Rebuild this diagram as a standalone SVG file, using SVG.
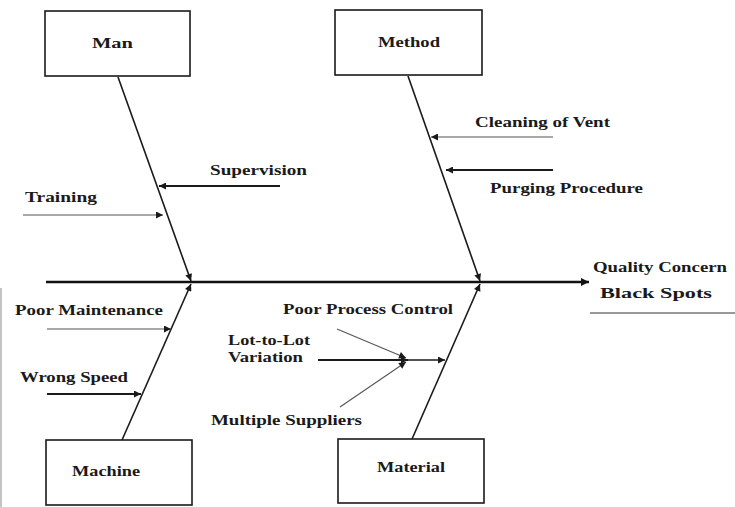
<svg xmlns="http://www.w3.org/2000/svg" width="735" height="507" viewBox="0 0 735 507">
  <style>
    .box { fill: #ffffff; stroke: #1a1a1a; stroke-width: 1.6; }
    .lbl { font-family: "Liberation Serif", "Times New Roman", serif; font-weight: bold; font-size: 15px; fill: #1a1a1a; }
    .bone { stroke: #1a1a1a; stroke-width: 1.6; fill: none; }
    .spine { stroke: #111111; stroke-width: 2.6; fill: none; }
    .thin { stroke: #555555; stroke-width: 1.1; fill: none; }
    .heavy { stroke: #1a1a1a; stroke-width: 2; fill: none; }
  </style>
  <defs>
    <marker id="arr" viewBox="0 0 10 10" refX="10" refY="5" markerWidth="9" markerHeight="7" markerUnits="userSpaceOnUse" orient="auto">
      <path d="M0,0 L10,5 L0,10 z" fill="#1a1a1a"/>
    </marker>
    <marker id="arrBig" viewBox="0 0 10 10" refX="10" refY="5" markerWidth="12" markerHeight="8" markerUnits="userSpaceOnUse" orient="auto">
      <path d="M0,0 L10,5 L0,10 z" fill="#111111"/>
    </marker>
  </defs>

  <rect width="735" height="507" fill="#ffffff"/>
  <!-- faint page edge at lower left -->
  <line x1="1" y1="288" x2="1" y2="507" stroke="#9a9a9a" stroke-width="1.2"/>

  <g id="connectors">
    <!-- main spine -->
    <line class="spine" x1="46" y1="282" x2="589" y2="282" marker-end="url(#arrBig)"/>
    <!-- category bones -->
    <line class="bone" x1="118" y1="77" x2="191" y2="281" marker-end="url(#arr)"/>
    <line class="bone" x1="408" y1="76" x2="480" y2="281" marker-end="url(#arr)"/>
    <line class="bone" x1="122" y1="440" x2="191" y2="284" marker-end="url(#arr)"/>
    <line class="bone" x1="412" y1="439" x2="480" y2="284" marker-end="url(#arr)"/>
    <!-- Man causes -->
    <line class="heavy" x1="280" y1="186" x2="159" y2="186" marker-end="url(#arr)"/>
    <line class="thin" x1="23" y1="215" x2="163" y2="215" marker-end="url(#arr)"/>
    <!-- Method causes -->
    <line class="thin" x1="553" y1="137" x2="431" y2="137" marker-end="url(#arr)"/>
    <line class="heavy" x1="553" y1="170" x2="446" y2="170" marker-end="url(#arr)"/>
    <!-- Machine causes -->
    <line class="thin" x1="47" y1="329" x2="171" y2="329" marker-end="url(#arr)"/>
    <line class="heavy" x1="47" y1="394" x2="141" y2="394" marker-end="url(#arr)"/>
    <!-- Material causes -->
    <line class="thin" x1="337" y1="329" x2="406" y2="358" marker-end="url(#arr)"/>
    <line class="thin" x1="340" y1="407" x2="406" y2="362" marker-end="url(#arr)"/>
    <line class="heavy" x1="318" y1="360" x2="408" y2="360" marker-end="url(#arr)"/>
    <line class="bone" x1="408" y1="360" x2="445" y2="360" marker-end="url(#arr)"/>
    <!-- effect underline -->
    <line x1="590" y1="313" x2="735" y2="313" stroke="#777777" stroke-width="1.4"/>
  </g>

  <g id="man">
    <rect class="box" x="45" y="11" width="145" height="65"/>
    <text class="lbl" x="92" y="48" textLength="41" lengthAdjust="spacingAndGlyphs">Man</text>
  </g>
  <g id="method">
    <rect class="box" x="335" y="10" width="147" height="65"/>
    <text class="lbl" x="378" y="47" textLength="62" lengthAdjust="spacingAndGlyphs">Method</text>
  </g>
  <g id="machine">
    <rect class="box" x="46" y="440" width="146" height="65"/>
    <text class="lbl" x="72" y="476" textLength="68" lengthAdjust="spacingAndGlyphs">Machine</text>
  </g>
  <g id="material">
    <rect class="box" x="338" y="439" width="146" height="64"/>
    <text class="lbl" x="377" y="472" textLength="68" lengthAdjust="spacingAndGlyphs">Material</text>
  </g>

  <g id="cause-labels">
    <text class="lbl" x="210" y="175" textLength="97" lengthAdjust="spacingAndGlyphs">Supervision</text>
    <text class="lbl" x="25" y="202" textLength="72" lengthAdjust="spacingAndGlyphs">Training</text>
    <text class="lbl" x="475" y="127" textLength="135" lengthAdjust="spacingAndGlyphs">Cleaning of Vent</text>
    <text class="lbl" x="490" y="193" textLength="153" lengthAdjust="spacingAndGlyphs">Purging Procedure</text>
    <text class="lbl" x="15" y="315" textLength="148" lengthAdjust="spacingAndGlyphs">Poor Maintenance</text>
    <text class="lbl" x="20" y="382" textLength="108" lengthAdjust="spacingAndGlyphs">Wrong Speed</text>
    <text class="lbl" x="283" y="314" textLength="170" lengthAdjust="spacingAndGlyphs">Poor Process Control</text>
    <text class="lbl" x="228" y="345" textLength="82" lengthAdjust="spacingAndGlyphs">Lot-to-Lot</text>
    <text class="lbl" x="228" y="362" textLength="75" lengthAdjust="spacingAndGlyphs">Variation</text>
    <text class="lbl" x="211" y="425" textLength="151" lengthAdjust="spacingAndGlyphs">Multiple Suppliers</text>
  </g>

  <g id="effect">
    <text class="lbl" x="593" y="272" textLength="134" lengthAdjust="spacingAndGlyphs">Quality Concern</text>
    <text class="lbl" x="600" y="298" textLength="112" lengthAdjust="spacingAndGlyphs">Black Spots</text>
  </g>
</svg>
